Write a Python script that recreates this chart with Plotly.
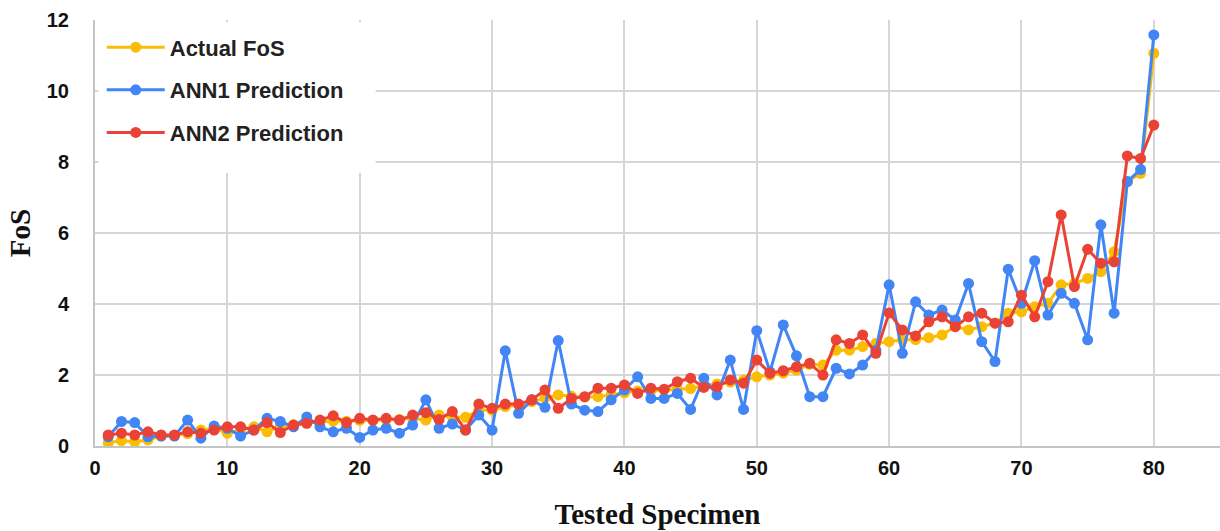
import plotly.graph_objects as go

specimen = list(range(1, 81))

actual_fos = [0.09, 0.15, 0.12, 0.17, 0.28, 0.30, 0.35, 0.45, 0.50, 0.36,
              0.45, 0.54, 0.40, 0.55, 0.60, 0.65, 0.68, 0.70, 0.70, 0.72,
              0.72, 0.74, 0.75, 0.78, 0.73, 0.87, 0.81, 0.81, 1.01, 1.01,
              1.11, 1.15, 1.25, 1.35, 1.44, 1.40, 1.38, 1.39, 1.45, 1.50,
              1.55, 1.55, 1.58, 1.60, 1.62, 1.70, 1.75, 1.80, 1.85, 1.95,
              2.00, 2.05, 2.14, 2.30, 2.28, 2.70, 2.70, 2.80, 2.89, 2.94,
              2.99, 3.00, 3.05, 3.13, 3.36, 3.27, 3.36, 3.46, 3.74, 3.78,
              3.92, 4.02, 4.54, 4.58, 4.72, 4.91, 5.47, 7.45, 7.68, 11.06]

ann1_pred = [0.26, 0.69, 0.66, 0.26, 0.28, 0.28, 0.73, 0.22, 0.56, 0.50,
             0.28, 0.45, 0.78, 0.69, 0.54, 0.82, 0.54, 0.40, 0.50, 0.24,
             0.45, 0.50, 0.36, 0.59, 1.30, 0.50, 0.62, 0.45, 0.87, 0.45,
             2.68, 0.92, 1.30, 1.09, 2.97, 1.18, 1.01, 0.97, 1.30, 1.58,
             1.95, 1.34, 1.34, 1.48, 1.03, 1.91, 1.44, 2.42, 1.03, 3.25,
             2.09, 3.41, 2.54, 1.39, 1.39, 2.19, 2.03, 2.28, 2.70, 4.54,
             2.61, 4.06, 3.69, 3.83, 3.55, 4.58, 2.94, 2.38, 4.98, 4.02,
             5.22, 3.69, 4.30, 4.02, 2.99, 6.23, 3.74, 7.45, 7.79, 11.58]

ann2_pred = [0.31, 0.36, 0.31, 0.40, 0.31, 0.31, 0.40, 0.36, 0.45, 0.54,
             0.54, 0.45, 0.66, 0.38, 0.59, 0.64, 0.73, 0.85, 0.66, 0.78,
             0.73, 0.78, 0.73, 0.87, 0.94, 0.75, 0.97, 0.45, 1.18, 1.06,
             1.18, 1.18, 1.30, 1.58, 1.06, 1.34, 1.39, 1.63, 1.63, 1.72,
             1.48, 1.63, 1.60, 1.81, 1.91, 1.65, 1.67, 1.86, 1.77, 2.42,
             2.05, 2.12, 2.23, 2.33, 2.00, 2.99, 2.89, 3.13, 2.61, 3.75,
             3.27, 3.10, 3.50, 3.64, 3.36, 3.64, 3.74, 3.46, 3.50, 4.25,
             3.64, 4.63, 6.51, 4.49, 5.54, 5.15, 5.19, 8.17, 8.10, 9.04]

series_names = ["Actual FoS", "ANN1 Prediction", "ANN2 Prediction"]
series_colors = ["#FBBC04", "#4285F4", "#EA4335"]
x_ticks = [0, 10, 20, 30, 40, 50, 60, 70, 80]
y_ticks = [0, 2, 4, 6, 8, 10, 12]

fig = go.Figure()
for name, vals, col in zip(series_names, [actual_fos, ann1_pred, ann2_pred], series_colors):
    fig.add_trace(go.Scatter(
        x=specimen, y=vals, name=name, mode="lines+markers",
        line=dict(color=col, width=3),
        marker=dict(color=col, size=11),
        legendgroup=name,
    ))

# white backing behind the legend (covers gridlines like the reference)
fig.add_shape(type="rect", xref="x", yref="y", x0=0.25, x1=21.2, y0=7.69, y1=11.94,
              fillcolor="white", line=dict(width=0), layer="above")

fig.update_layout(
    width=1220, height=531,
    margin=dict(l=95, r=0, t=20, b=85, autoexpand=False),
    paper_bgcolor="white", plot_bgcolor="white",
    showlegend=True,
    legend=dict(
        x=0.006, y=0.985, xanchor="left", yanchor="top",
        bgcolor="rgba(0,0,0,0)",
        font=dict(family="Liberation Sans", size=22, color="#222222", weight="bold"),
        tracegroupgap=11, itemwidth=58,
    ),
    xaxis=dict(
        range=[0, 85], tickvals=x_ticks, showgrid=True, gridcolor="#d6d6d6", gridwidth=1.5,
        zeroline=False, showline=True, linecolor="#c4c4c4", linewidth=2, automargin=False,
        tickfont=dict(family="Liberation Sans", size=20, color="#111111", weight="bold"),
        ticklabelstandoff=3,
        title=dict(text="Tested Specimen", standoff=26,
                   font=dict(family="Liberation Serif", size=29, color="#111111", weight="bold")),
    ),
    yaxis=dict(
        range=[0, 12], tickvals=y_ticks, showgrid=True, gridcolor="#d6d6d6", gridwidth=1.5,
        zeroline=False, showline=True, linecolor="#c4c4c4", linewidth=2, automargin=False,
        tickfont=dict(family="Liberation Sans", size=20, color="#111111", weight="bold"),
        ticklabelstandoff=20,
        title=dict(text="FoS", standoff=8,
                   font=dict(family="Liberation Serif", size=29, color="#111111", weight="bold")),
    ),
)

fig.write_html("out.html", config={"displayModeBar": False},
               post_script="document.body.style.margin='0';")
